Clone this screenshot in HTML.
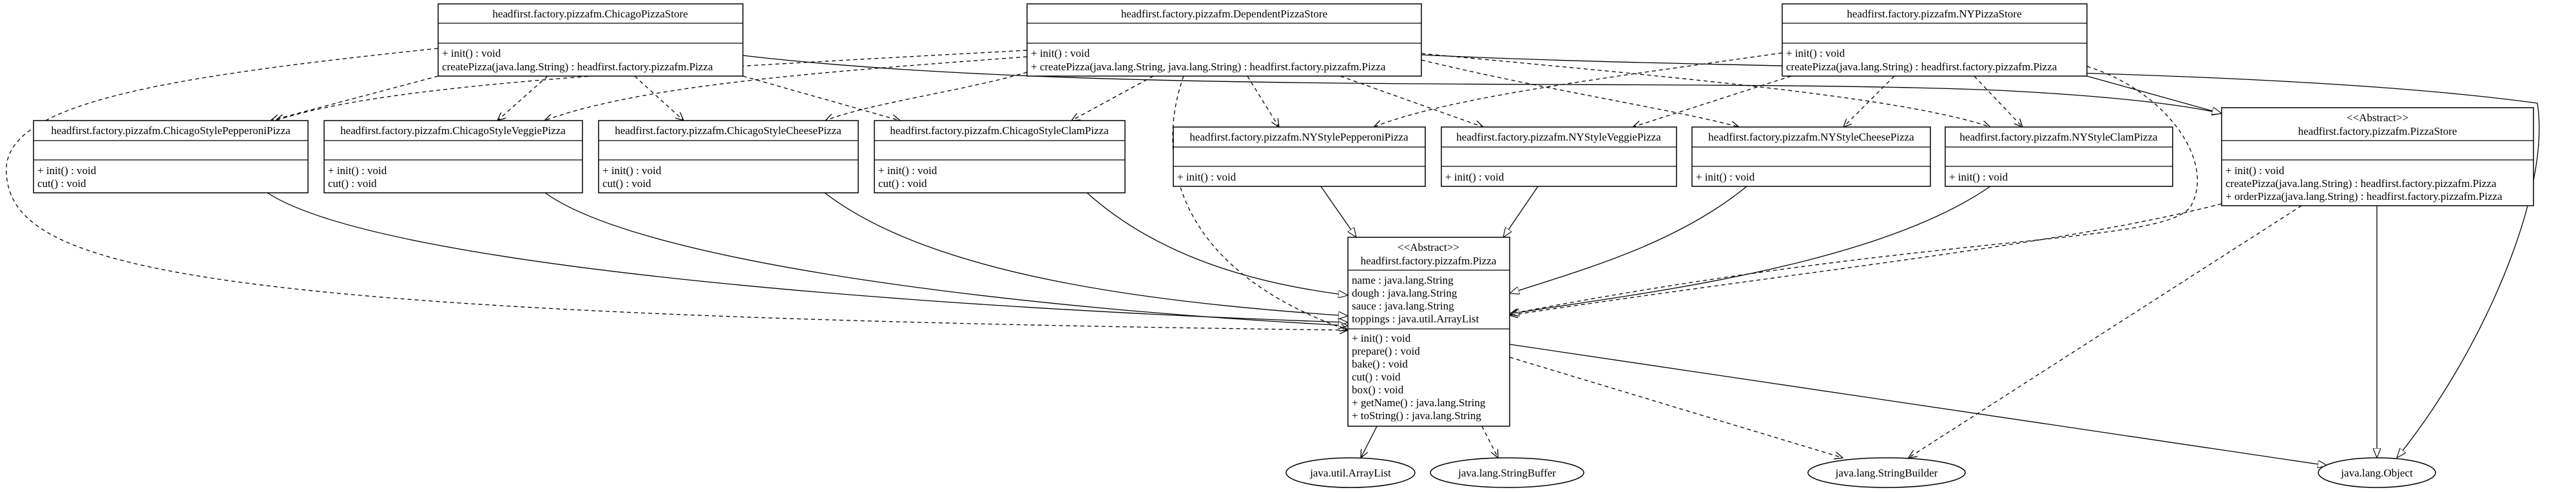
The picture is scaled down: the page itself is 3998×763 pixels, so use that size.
<!DOCTYPE html>
<html><head><meta charset="utf-8"><style>
html,body{margin:0;padding:0;background:#fff;}
svg{display:block;}
text{font-family:"Liberation Serif",serif;font-size:17px;fill:#000;}
.c{text-anchor:middle;}
.b{fill:#fff;stroke:#000;stroke-width:1.5;}
.s{fill:none;stroke:#000;stroke-width:1.3;}
.d{fill:none;stroke:#000;stroke-width:1.3;stroke-dasharray:6,5;}
</style></head><body>
<svg width="3998" height="763" viewBox="0 0 3998 763" xmlns="http://www.w3.org/2000/svg">
<defs>
<marker id="o" markerWidth="14" markerHeight="12" refX="13" refY="6" orient="auto" markerUnits="userSpaceOnUse"><path d="M0,0 L13,6 L0,12" fill="none" stroke="#000" stroke-width="1.3"/></marker>
<marker id="t" markerWidth="16" markerHeight="12" refX="15" refY="6" orient="auto" markerUnits="userSpaceOnUse"><path d="M0,0 L15,6 L0,12 Z" fill="#fff" stroke="#000" stroke-width="1.1"/></marker>
</defs>

<!-- edges -->
<g>
<!-- Chicago subclasses -> Pizza -->
<path class="s" marker-end="url(#t)" d="M415,299 C600,420 1500,480 2092,500"/>
<path class="s" marker-end="url(#t)" d="M846,299 C1000,410 1600,480 2092,505"/>
<path class="s" marker-end="url(#t)" d="M1280,299 C1450,430 1800,470 2092,490"/>
<path class="s" marker-end="url(#t)" d="M1687,299 C1800,400 1950,440 2092,458"/>
<!-- NY subclasses -> Pizza -->
<path class="s" marker-end="url(#t)" d="M2050,289 L2105,368"/>
<path class="s" marker-end="url(#t)" d="M2387,289 L2333,368"/>
<path class="s" marker-end="url(#t)" d="M2711,289 C2600,380 2450,420 2343,455"/>
<path class="s" marker-end="url(#t)" d="M3089,289 C2900,420 2500,460 2343,487"/>
<!-- dependent dashed to Pizza -->
<path class="d" marker-end="url(#o)" d="M680,75 C250,120 0,160 10,270 C20,420 300,490 2092,512"/>
<path class="d" marker-end="url(#o)" d="M1837,118 C1790,250 1830,420 2092,512"/>
<path class="d" marker-end="url(#o)" d="M3239,103 C3360,140 3440,250 3400,320 C3360,380 3000,360 2343,487"/>
<path class="d" marker-end="url(#o)" d="M3448,316 C3200,380 2800,420 2343,489"/>
<!-- ChicagoPizzaStore deps -->
<path class="d" marker-end="url(#o)" d="M680,118 L420,187"/>
<path class="d" marker-end="url(#o)" d="M850,118 L772,187"/>
<path class="d" marker-end="url(#o)" d="M985,118 L1061,187"/>
<path class="d" marker-end="url(#o)" d="M1153,118 L1397,187"/>
<!-- DependentPizzaStore deps -->
<path class="d" marker-end="url(#o)" d="M1594,78 C1000,110 600,130 428,187"/>
<path class="d" marker-end="url(#o)" d="M1594,88 C1300,110 1000,130 845,187"/>
<path class="d" marker-end="url(#o)" d="M1594,112 C1500,140 1350,160 1281,187"/>
<path class="d" marker-end="url(#o)" d="M1790,118 L1663,187"/>
<path class="d" marker-end="url(#o)" d="M1936,118 L1985,197"/>
<path class="d" marker-end="url(#o)" d="M2080,118 L2302,197"/>
<path class="d" marker-end="url(#o)" d="M2206,93 C2400,140 2600,170 2699,197"/>
<path class="d" marker-end="url(#o)" d="M2206,83 C2600,120 2950,150 3089,197"/>
<!-- NYPizzaStore deps -->
<path class="d" marker-end="url(#o)" d="M2766,82 C2500,120 2250,150 2132,197"/>
<path class="d" marker-end="url(#o)" d="M2780,118 L2534,197"/>
<path class="d" marker-end="url(#o)" d="M2940,118 L2861,197"/>
<path class="d" marker-end="url(#o)" d="M3064,118 L3139,197"/>
<!-- inheritance to PizzaStore / Object -->
<path class="s" marker-end="url(#t)" d="M1153,86 C1700,150 2600,120 3100,140 C3300,150 3400,165 3448,176"/>
<path class="s" marker-end="url(#t)" d="M3239,118 L3448,176"/>
<path class="s" marker-end="url(#t)" d="M2206,85 C2700,110 3500,100 3938,160 C3960,300 3850,550 3720,710"/>
<path class="s" marker-end="url(#t)" d="M3689,319 L3689,710"/>
<!-- Pizza deps -->
<path class="s" marker-end="url(#t)" d="M2343,534 L3612,722"/>
<path class="d" marker-end="url(#o)" d="M2343,554 L2860,710"/>
<path class="d" marker-end="url(#o)" d="M3572,319 L2962,710"/>
<path class="s" marker-end="url(#o)" d="M2137,661 L2112,710"/>
<path class="d" marker-end="url(#o)" d="M2300,661 L2325,710"/>
</g>

<!-- ChicagoPizzaStore -->
<rect class="b" x="680" y="6" width="473" height="112"/>
<line class="s" x1="680" y1="36" x2="1153" y2="36"/><line class="s" x1="680" y1="67" x2="1153" y2="67"/>
<text class="c" x="916" y="27">headfirst.factory.pizzafm.ChicagoPizzaStore</text>
<text x="686" y="88">+ init() : void</text>
<text x="686" y="109">createPizza(java.lang.String) : headfirst.factory.pizzafm.Pizza</text>

<!-- DependentPizzaStore -->
<rect class="b" x="1594" y="6" width="612" height="112"/>
<line class="s" x1="1594" y1="36" x2="2206" y2="36"/><line class="s" x1="1594" y1="67" x2="2206" y2="67"/>
<text class="c" x="1900" y="27">headfirst.factory.pizzafm.DependentPizzaStore</text>
<text x="1600" y="88">+ init() : void</text>
<text x="1600" y="109">+ createPizza(java.lang.String, java.lang.String) : headfirst.factory.pizzafm.Pizza</text>

<!-- NYPizzaStore -->
<rect class="b" x="2766" y="6" width="473" height="112"/>
<line class="s" x1="2766" y1="36" x2="3239" y2="36"/><line class="s" x1="2766" y1="67" x2="3239" y2="67"/>
<text class="c" x="3002" y="27">headfirst.factory.pizzafm.NYPizzaStore</text>
<text x="2772" y="88">+ init() : void</text>
<text x="2772" y="109">createPizza(java.lang.String) : headfirst.factory.pizzafm.Pizza</text>

<!-- Chicago subclasses -->
<rect class="b" x="52" y="187" width="426" height="112"/>
<line class="s" x1="52" y1="218" x2="478" y2="218"/><line class="s" x1="52" y1="248" x2="478" y2="248"/>
<text class="c" x="265" y="208">headfirst.factory.pizzafm.ChicagoStylePepperoniPizza</text>
<text x="58" y="270">+ init() : void</text><text x="58" y="290">cut() : void</text>

<rect class="b" x="503" y="187" width="401" height="112"/>
<line class="s" x1="503" y1="218" x2="904" y2="218"/><line class="s" x1="503" y1="248" x2="904" y2="248"/>
<text class="c" x="703" y="208">headfirst.factory.pizzafm.ChicagoStyleVeggiePizza</text>
<text x="509" y="270">+ init() : void</text><text x="509" y="290">cut() : void</text>

<rect class="b" x="929" y="187" width="403" height="112"/>
<line class="s" x1="929" y1="218" x2="1332" y2="218"/><line class="s" x1="929" y1="248" x2="1332" y2="248"/>
<text class="c" x="1130" y="208">headfirst.factory.pizzafm.ChicagoStyleCheesePizza</text>
<text x="935" y="270">+ init() : void</text><text x="935" y="290">cut() : void</text>

<rect class="b" x="1357" y="187" width="389" height="112"/>
<line class="s" x1="1357" y1="218" x2="1746" y2="218"/><line class="s" x1="1357" y1="248" x2="1746" y2="248"/>
<text class="c" x="1551" y="208">headfirst.factory.pizzafm.ChicagoStyleClamPizza</text>
<text x="1363" y="270">+ init() : void</text><text x="1363" y="290">cut() : void</text>

<!-- NY subclasses -->
<rect class="b" x="1821" y="197" width="391" height="92"/>
<line class="s" x1="1821" y1="228" x2="2212" y2="228"/><line class="s" x1="1821" y1="258" x2="2212" y2="258"/>
<text class="c" x="2016" y="218">headfirst.factory.pizzafm.NYStylePepperoniPizza</text>
<text x="1827" y="280">+ init() : void</text>

<rect class="b" x="2237" y="197" width="365" height="92"/>
<line class="s" x1="2237" y1="228" x2="2602" y2="228"/><line class="s" x1="2237" y1="258" x2="2602" y2="258"/>
<text class="c" x="2419" y="218">headfirst.factory.pizzafm.NYStyleVeggiePizza</text>
<text x="2243" y="280">+ init() : void</text>

<rect class="b" x="2626" y="197" width="370" height="92"/>
<line class="s" x1="2626" y1="228" x2="2996" y2="228"/><line class="s" x1="2626" y1="258" x2="2996" y2="258"/>
<text class="c" x="2811" y="218">headfirst.factory.pizzafm.NYStyleCheesePizza</text>
<text x="2632" y="280">+ init() : void</text>

<rect class="b" x="3019" y="197" width="353" height="92"/>
<line class="s" x1="3019" y1="228" x2="3372" y2="228"/><line class="s" x1="3019" y1="258" x2="3372" y2="258"/>
<text class="c" x="3195" y="218">headfirst.factory.pizzafm.NYStyleClamPizza</text>
<text x="3025" y="280">+ init() : void</text>

<!-- PizzaStore -->
<rect class="b" x="3448" y="167" width="484" height="152"/>
<line class="s" x1="3448" y1="218" x2="3932" y2="218"/><line class="s" x1="3448" y1="248" x2="3932" y2="248"/>
<text class="c" x="3690" y="188">&lt;&lt;Abstract&gt;&gt;</text>
<text class="c" x="3690" y="209">headfirst.factory.pizzafm.PizzaStore</text>
<text x="3454" y="270">+ init() : void</text>
<text x="3454" y="290">createPizza(java.lang.String) : headfirst.factory.pizzafm.Pizza</text>
<text x="3454" y="310">+ orderPizza(java.lang.String) : headfirst.factory.pizzafm.Pizza</text>

<!-- Pizza -->
<rect class="b" x="2092" y="368" width="251" height="293"/>
<line class="s" x1="2092" y1="419" x2="2343" y2="419"/><line class="s" x1="2092" y1="510" x2="2343" y2="510"/>
<text class="c" x="2217" y="389">&lt;&lt;Abstract&gt;&gt;</text>
<text class="c" x="2217" y="410">headfirst.factory.pizzafm.Pizza</text>
<text x="2098" y="440">name : java.lang.String</text>
<text x="2098" y="460">dough : java.lang.String</text>
<text x="2098" y="480">sauce : java.lang.String</text>
<text x="2098" y="500">toppings : java.util.ArrayList</text>
<text x="2098" y="530">+ init() : void</text>
<text x="2098" y="550">prepare() : void</text>
<text x="2098" y="570">bake() : void</text>
<text x="2098" y="590">cut() : void</text>
<text x="2098" y="610">box() : void</text>
<text x="2098" y="630">+ getName() : java.lang.String</text>
<text x="2098" y="650">+ toString() : java.lang.String</text>

<!-- ellipses -->
<ellipse class="b" cx="2096" cy="733" rx="100" ry="23"/>
<text class="c" x="2096" y="739">java.util.ArrayList</text>
<ellipse class="b" cx="2339" cy="733" rx="119" ry="23"/>
<text class="c" x="2339" y="739">java.lang.StringBuffer</text>
<ellipse class="b" cx="2928" cy="733" rx="122" ry="23"/>
<text class="c" x="2928" y="739">java.lang.StringBuilder</text>
<ellipse class="b" cx="3689" cy="733" rx="91" ry="23"/>
<text class="c" x="3689" y="739">java.lang.Object</text>
</svg>
</body></html>
